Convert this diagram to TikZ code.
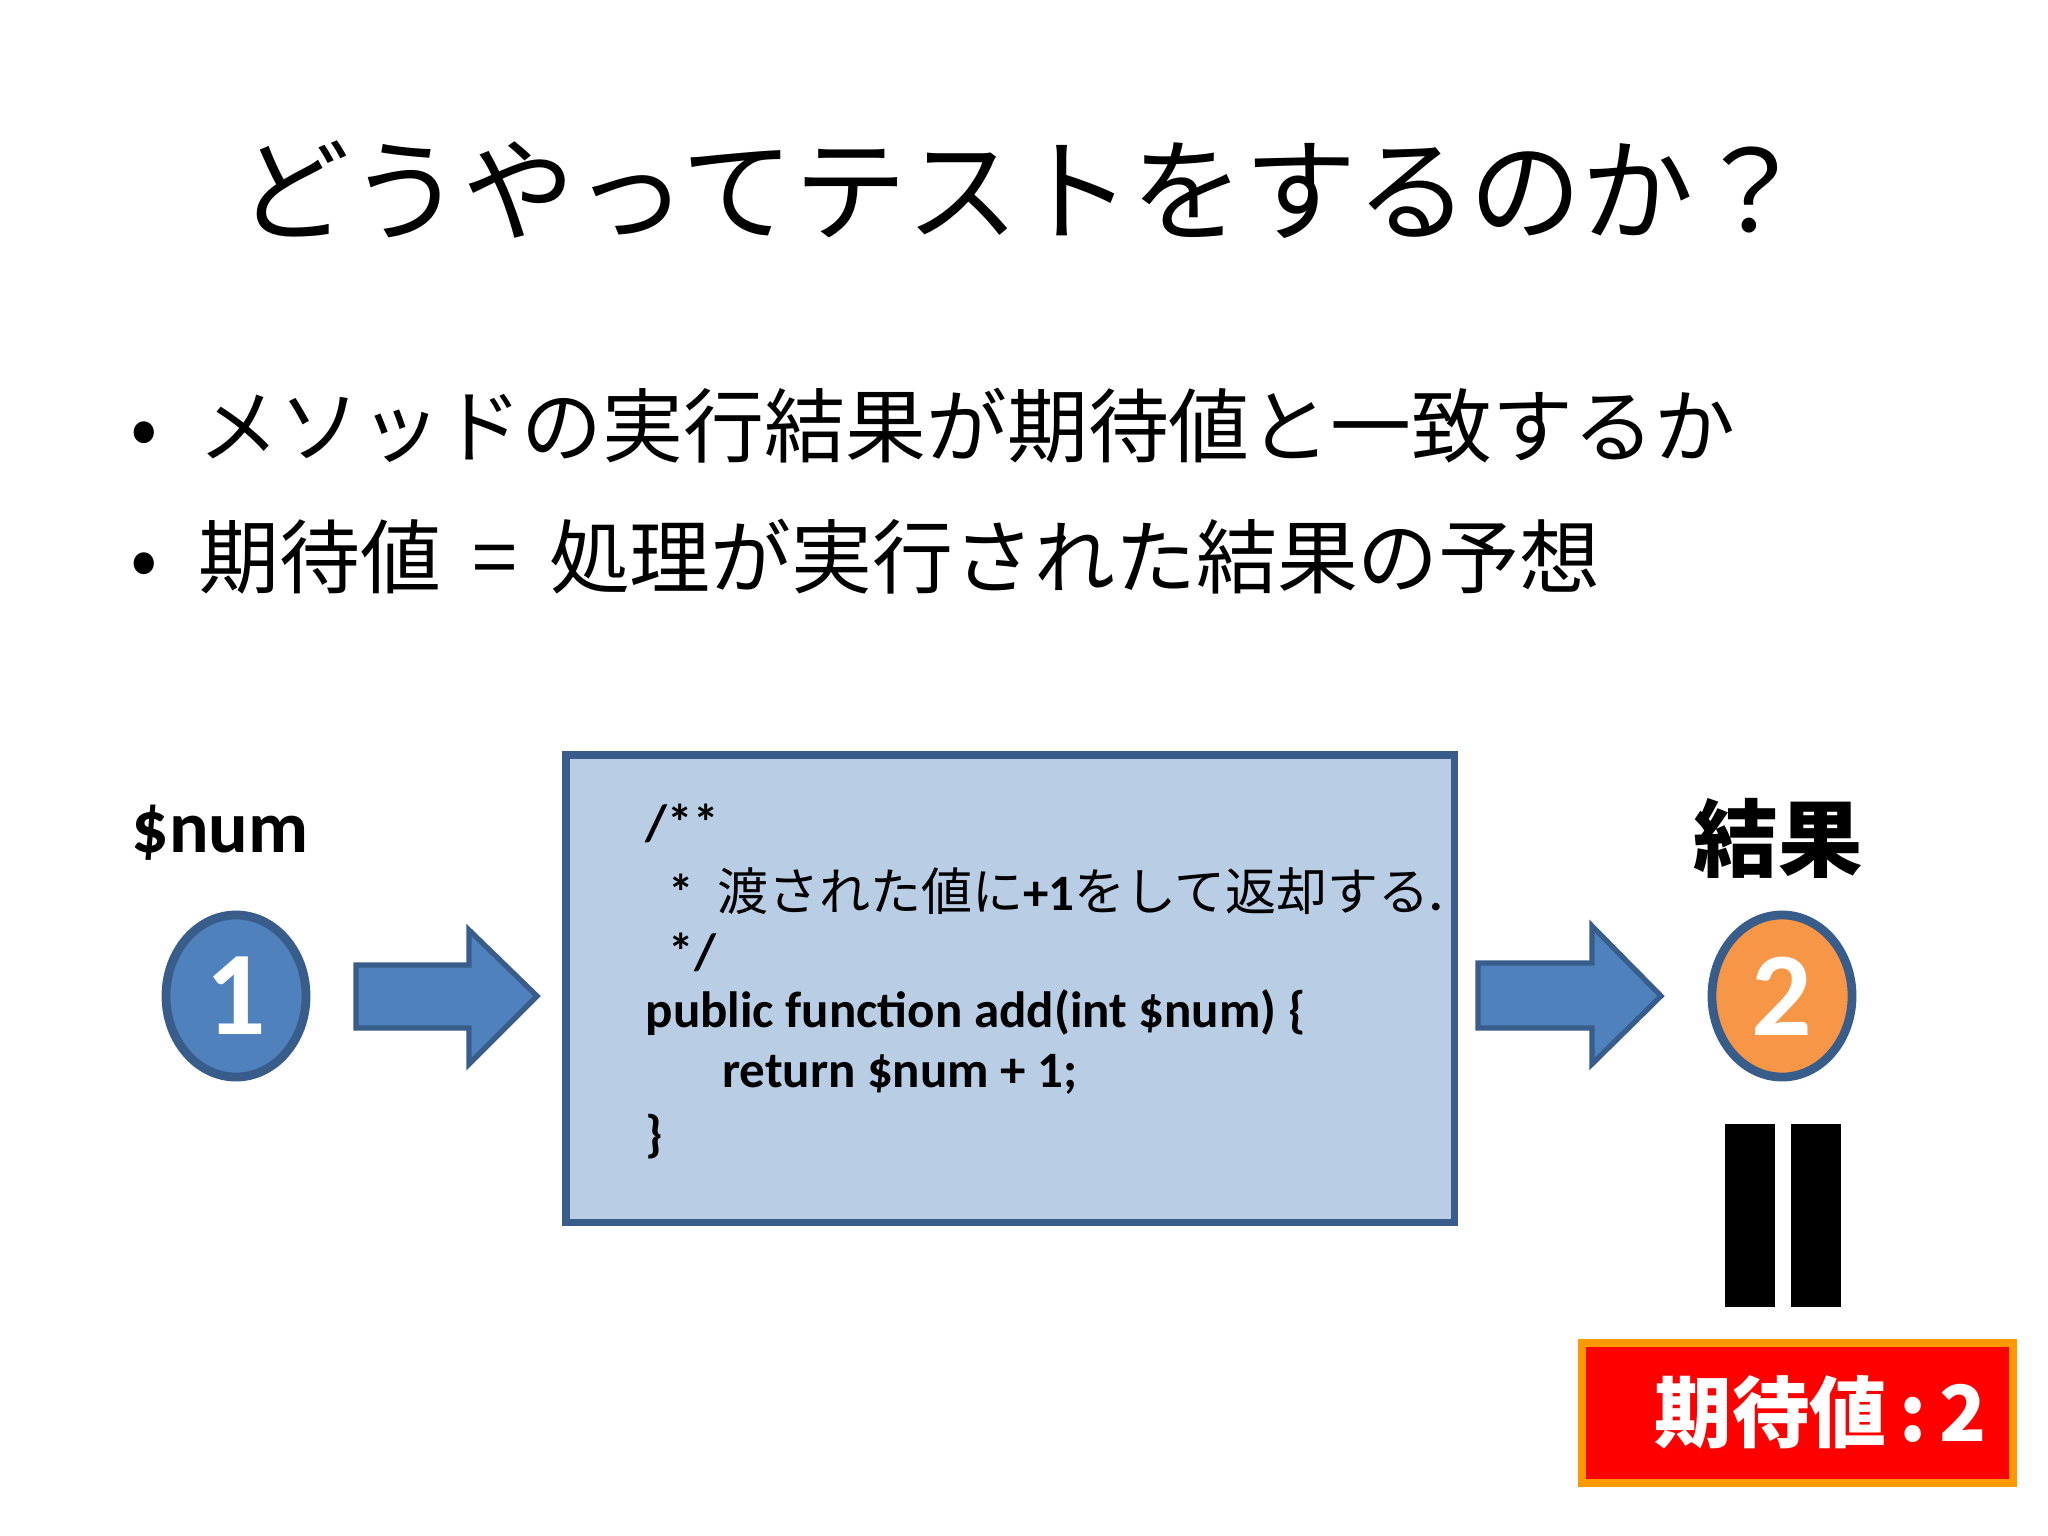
\documentclass[tikz,border=0pt]{standalone}
\usepackage{fontspec}
\setmainfont{Carlito}
\newfontfamily\cjk{Noto Sans CJK JP}
\usetikzlibrary{shapes.geometric}
\definecolor{bl}{HTML}{4F81BD}
\definecolor{bd}{HTML}{385D8A}
\definecolor{bx}{HTML}{B9CDE5}
\definecolor{og}{HTML}{F79646}
\begin{document}
\begin{tikzpicture}[x=0.01cm,y=-0.01cm,
  circ/.style={ellipse,draw=bd,line width=2.5pt,minimum width=1.4cm,minimum height=1.62cm,inner sep=0,font=\bfseries\fontsize{34}{34}\selectfont,text=white},
  arr/.style={fill=bl,draw=bd,line width=1.5pt},
  code/.style={anchor=west,font=\fontsize{14.5}{14.5}\selectfont\bfseries,inner sep=0}]
\useasboundingbox (0,0) rectangle (2048,1536);
\node[font=\cjk\fontsize{32}{32}\selectfont] (title) at (1022,190) {どうやってテストをするのか？};
\node[anchor=west,font=\cjk\fontsize{23}{23}\selectfont] (b1) at (118,426) {•\hspace{0.5em}メソッドの実行結果が期待値と一致するか};
\node[anchor=west,font=\cjk\fontsize{23}{23}\selectfont] (b2) at (118,557) {•\hspace{0.5em}期待値\ \,=\,\ 処理が実行された結果の予想};
\node[font=\bfseries\fontsize{21}{21}\selectfont] (lnum) at (220,833) {\$num};
\node[circ,fill=bl] (c1) at (236,996) {1};
\draw[arr] (356,965) -- (469,965) -- (469,930) -- (537,996) -- (469,1064) -- (469,1028) -- (356,1028) -- cycle;
\draw[fill=bx,draw=bd,line width=2pt] (566,755) rectangle (1454,1222);
\node[code] (l1) at (645,823) {/**};
\node[code] (l2) at (645,891) {\ \ *\ \ {\cjk\mdseries 渡された値に}+1{\cjk\mdseries をして返却する}.};
\node[code] (l3) at (645,952) {\ \ */};
\node[code] (l4) at (645,1013) {public function add(int \$num) \{};
\node[code] (l5) at (645,1074) {\hspace{1.5em}return \$num + 1;};
\node[code] (l6) at (645,1137) {\}};
\draw[arr] (1478,963) -- (1592,963) -- (1592,926) -- (1661,996) -- (1592,1064) -- (1592,1028) -- (1478,1028) -- cycle;
\node[font=\cjk\bfseries\fontsize{24}{24}\selectfont] (res) at (1778,838) {結果};
\node[circ,fill=og] (c2) at (1782,996) {2};
\fill (1725,1124) rectangle (1775,1307);
\fill (1791,1124) rectangle (1841,1307);
\draw[fill=red,draw=orange!80!yellow,line width=2.5pt] (1582,1343) rectangle (2013,1483);
\node[font=\cjk\bfseries\fontsize{22}{22}\selectfont,text=white] (exp) at (1821,1412) {期待値\,:\,2};
\end{tikzpicture}
\end{document}
